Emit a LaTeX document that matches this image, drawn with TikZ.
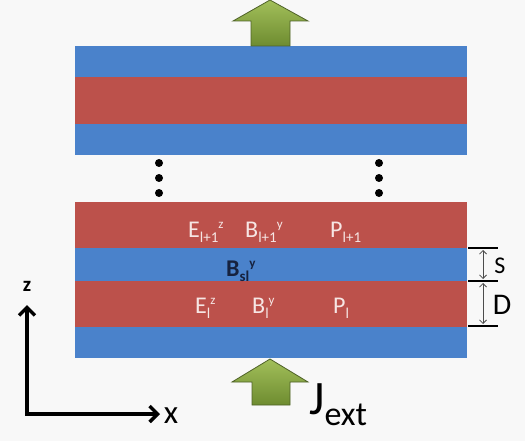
\documentclass[tikz,border=0pt]{standalone}
\usepackage{fontspec}
\setmainfont{Carlito}
\usetikzlibrary{arrows.meta}
\definecolor{bg}{HTML}{F8F8F8}
\definecolor{lblue}{HTML}{4A82CB}
\definecolor{lred}{HTML}{BC514B}
\definecolor{gtop}{HTML}{A2BF5A}
\definecolor{gbot}{HTML}{6E8C30}
\definecolor{gedge}{HTML}{4F6228}
\definecolor{pinkw}{HTML}{F6E6E4}
\definecolor{navy}{HTML}{16223F}
\newcommand\lsub[1]{\raisebox{-5pt}{\fontsize{15}{15}\selectfont #1}}
\newcommand\lsup[1]{\raisebox{9pt}{\fontsize{13}{13}\selectfont #1}}
\begin{document}
\begin{tikzpicture}[x=1pt,y=-1pt,
  bluelayer/.style={fill=lblue},
  redlayer/.style={fill=lred},
  greenarrow/.style={top color=gtop,bottom color=gbot,draw=gedge,line width=0.8pt,line join=miter},
  lbl/.style={text=pinkw,font=\fontsize{24}{26}\selectfont,anchor=base west,inner sep=0pt},
  axis/.style={line width=3.5pt,{Straight Barb[length=8pt,width=16pt]}-{Straight Barb[length=8pt,width=16pt]}},
  tickline/.style={line width=1.4pt,black},
  dimarrow/.style={line width=0.8pt,black!70,{Straight Barb[length=3.5pt,width=7pt]}-{Straight Barb[length=3.5pt,width=7pt]}},
  vdot/.style={circle,fill=black,inner sep=0pt,minimum size=8pt}]
\useasboundingbox[fill=bg] (0,0) rectangle (525,441);
% top stack
\fill[bluelayer] (75,46) rectangle (467,77);
\fill[redlayer] (75,77) rectangle (467,124);
\fill[bluelayer] (75,124) rectangle (467,155);
% bottom stack
\fill[redlayer] (75,202) rectangle (467,248);
\fill[bluelayer] (75,248) rectangle (467,281);
\fill[redlayer] (75,281) rectangle (467,327);
\fill[bluelayer] (75,327) rectangle (467,358);
% green arrows
\path[greenarrow] (251,46) -- (251,21) -- (233,21) -- (270,0) -- (308,21) -- (290,21) -- (290,46) -- cycle;
\path[greenarrow] (252,405) -- (252,382) -- (232,382) -- (270,359) -- (308,382) -- (290,382) -- (290,405) -- cycle;
% dots
\foreach \i/\yy in {1/163,2/178,3/193}{
  \node[vdot] (dl\i) at (159,\yy) {};
  \node[vdot] (dr\i) at (379,\yy) {};
}
% labels in layers
\node[lbl] (e1) at (188,237) {E\lsub{l+1}\lsup{z}};
\node[lbl] (b1) at (245,237) {B\lsub{l+1}\lsup{y}};
\node[lbl] (p1) at (330,237) {P\lsub{l+1}};
\node[lbl] (e0) at (195,313) {E\lsub{l}\lsup{z}};
\node[lbl] (b0) at (252,313) {B\lsub{l}\lsup{y}};
\node[lbl] (p0) at (333,313) {P\lsub{l}};
\node[lbl,text=navy,font=\bfseries\fontsize{24}{26}\selectfont] (bsl) at (226,276) {B\lsub{\bfseries sl}\lsup{\bfseries y}};
% dimensions
\coordinate (t1a) at (468,248); \coordinate (t1b) at (498,248);
\coordinate (t2a) at (468,281); \coordinate (t2b) at (498,281);
\coordinate (t3a) at (468,326); \coordinate (t3b) at (498,326);
\draw[tickline] (t1a) -- (t1b);
\draw[tickline] (t2a) -- (t2b);
\draw[tickline] (t3a) -- (t3b);
\coordinate (sa) at (483,250); \coordinate (sb) at (483,279);
\coordinate (da) at (483,283); \coordinate (db) at (483,324);
\draw[dimarrow] (sa) -- (sb);
\draw[dimarrow] (da) -- (db);
\node[font=\fontsize{24}{24}\selectfont,inner sep=0pt] (slab) at (500,266) {S};
\node[font=\fontsize{30}{30}\selectfont,inner sep=0pt] (dlab) at (502,305) {D};
% axes
\coordinate (zt) at (27,305);
\coordinate (o) at (27,414);
\coordinate (xt) at (160,414);
\draw[axis] (zt) -- (o) -- (xt);
\node[font=\bfseries\fontsize{21}{21}\selectfont,inner sep=0pt] (zl) at (27,286) {z};
\node[font=\fontsize{33}{33}\selectfont,inner sep=0pt] (xl) at (171,416) {x};
% J_ext
\node[anchor=base west,inner sep=0pt,font=\fontsize{48}{48}\selectfont] (jext) at (309,414) {J\raisebox{-11pt}{\fontsize{34}{34}\selectfont ext}};
\end{tikzpicture}
\end{document}
